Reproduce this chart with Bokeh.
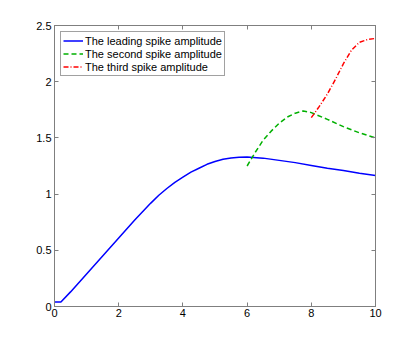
from bokeh.plotting import figure
from bokeh.models import LinearAxis, FixedTicker, CustomJSTickFormatter, Range1d, Legend, LegendItem
from bokeh.embed import file_html
from bokeh.resources import INLINE

# Data
lead_x = [0, 0.2, 0.5, 1.0, 1.5, 2.0, 2.5, 3.0, 3.25, 3.5, 3.75, 4.0, 4.25, 4.5, 4.75, 5.0, 5.25, 5.5, 5.75, 6.0, 6.5, 7.0, 7.5, 8.0, 8.5, 9.0, 9.5, 10]
lead_y = [0.04, 0.04, 0.13, 0.29, 0.45, 0.61, 0.77, 0.92, 0.99, 1.05, 1.105, 1.15, 1.195, 1.23, 1.265, 1.29, 1.31, 1.322, 1.328, 1.33, 1.32, 1.30, 1.28, 1.255, 1.23, 1.21, 1.185, 1.165]

second_x = [6.0, 6.25, 6.5, 6.75, 7.0, 7.25, 7.5, 7.75, 8.0, 8.5, 9.0, 9.5, 10]
second_y = [1.25, 1.37, 1.48, 1.56, 1.63, 1.685, 1.72, 1.74, 1.725, 1.665, 1.60, 1.545, 1.50]

third_x = [8.0, 8.25, 8.5, 8.75, 9.0, 9.25, 9.5, 9.75, 10]
third_y = [1.68, 1.78, 1.89, 2.02, 2.16, 2.28, 2.35, 2.375, 2.385]

x_ticks = [0, 2, 4, 6, 8, 10]
y_ticks = [0, 0.5, 1, 1.5, 2, 2.5]
labels = ["The leading spike amplitude", "The second spike amplitude", "The third spike amplitude"]

FONT = "Liberation Sans"
AXC = "#7f7f7f"

p = figure(width=400, height=330, output_backend="svg", toolbar_location=None,
           x_range=Range1d(0, 10), y_range=Range1d(0, 2.5),
           min_border_left=54, min_border_right=25, min_border_top=25, min_border_bottom=24,
           x_axis_location=None, y_axis_location=None)
p.xgrid.visible = False
p.ygrid.visible = False
p.outline_line_color = AXC
p.background_fill_color = "white"
p.border_fill_color = "white"

fmt = CustomJSTickFormatter(code="return String(tick);")
blank = CustomJSTickFormatter(code="return '';")

def style(ax):
    ax.axis_line_color = AXC
    ax.major_tick_line_color = AXC
    ax.minor_tick_line_color = None
    ax.major_tick_in = 4
    ax.major_tick_out = 0
    ax.major_label_text_font = FONT
    ax.major_label_text_font_size = "11px"
    ax.major_label_text_color = "black"
    ax.major_label_standoff = 3

bx = LinearAxis(ticker=FixedTicker(ticks=x_ticks), formatter=fmt)
style(bx)
bx.major_label_standoff = 2
p.add_layout(bx, "below")
tx = LinearAxis(ticker=FixedTicker(ticks=x_ticks), formatter=blank)
style(tx)
p.add_layout(tx, "above")
ly = LinearAxis(ticker=FixedTicker(ticks=y_ticks), formatter=fmt)
style(ly)
p.add_layout(ly, "left")
ry = LinearAxis(ticker=FixedTicker(ticks=y_ticks), formatter=blank)
style(ry)
p.add_layout(ry, "right")

r1 = p.line(lead_x, lead_y, line_color="#0000ff", line_width=1.5)
r2 = p.line(second_x, second_y, line_color="#00b000", line_width=1.5, line_dash="5 3")
r3 = p.line(third_x, third_y, line_color="#ff0000", line_width=1.5, line_dash="5 2 1 2")

leg = Legend(items=[LegendItem(label=labels[0], renderers=[r1]),
                    LegendItem(label=labels[1], renderers=[r2]),
                    LegendItem(label=labels[2], renderers=[r3])],
             location="top_left", margin=6, padding=2, spacing=0,
             glyph_width=20, glyph_height=13, label_height=13, label_standoff=2,
             label_text_font=FONT, label_text_font_size="11px", label_text_color="black",
             border_line_color="#444444", border_line_width=1, background_fill_color="white",
             background_fill_alpha=1)
p.add_layout(leg, "center")

open("out.html", "w").write(file_html(p, INLINE))
